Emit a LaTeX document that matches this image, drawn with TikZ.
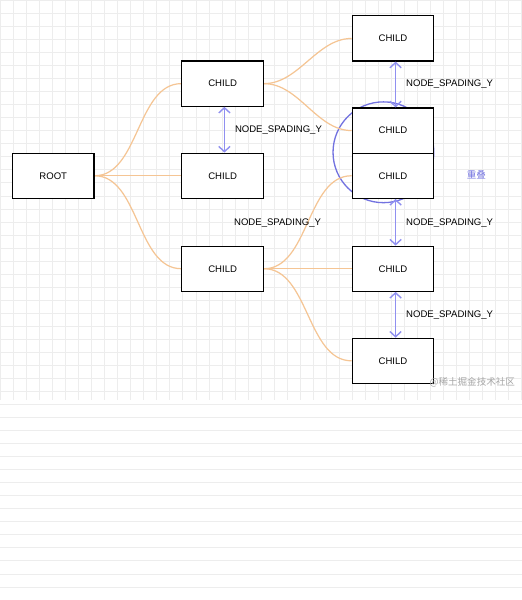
\documentclass[tikz,border=0pt]{standalone}
\usepackage{fontspec}
\setmainfont{Liberation Sans}
\newfontfamily\cjk{Noto Sans CJK SC}
\usetikzlibrary{arrows.meta,calc,backgrounds}
\definecolor{sp}{HTML}{9090F0}
\definecolor{circ}{HTML}{7272E0}
\definecolor{lk}{HTML}{F5C594}
\begin{document}
\begin{tikzpicture}[x=1pt,y=-1pt,
  box/.style={draw=black,line width=1.3pt,fill=white,minimum width=94pt,minimum height=52pt,inner sep=0pt,font=\fontsize{11}{13}\selectfont},
  link/.style={draw=lk,line width=1.4pt},
  sp/.style={draw=sp,line width=1.6pt,{Straight Barb[length=6pt,width=13pt]}-{Straight Barb[length=6pt,width=13pt]}},
  lbl/.style={anchor=west,font=\fontsize{11}{13}\selectfont,inner sep=0pt}]
\node[box] (r) at (61,202) {ROOT};
\node[box] (a) at (256,96) {CHILD};
\node[box] (b) at (256,202) {CHILD};
\node[box] (c) at (256,309) {CHILD};
\node[box] (d1) at (452,44) {CHILD};
\node[box] (d2) at (452,150) {CHILD};
\node[box] (d3) at (452,202) {CHILD};
\node[box] (d4) at (452,309) {CHILD};
\node[box] (d5) at (452,415) {CHILD};
\begin{scope}[on background layer]
\fill[white] (0,0) rectangle (600,460);
\foreach \i in {0,...,46}{
  \draw[black!7,line width=0.5pt] (0,\i*15) -- (600,\i*15);
}
\foreach \i in {0,...,40}{
  \draw[black!7,line width=0.5pt] (\i*15,0) -- (\i*15,460);
}
\draw[circ,line width=1.5pt] (441,175) circle (58);
\foreach \p/\c in {r/a,r/b,r/c,a/d1,a/d2,c/d3,c/d4,c/d5}{
  \draw[link] (\p.east) to[out=0,in=180,looseness=0.9] (\c.west);
}
\end{scope}
\useasboundingbox (0,0) rectangle (600,460);
\path (a.south) ++(2,0) coordinate (x1) (b.north) ++(2,0) coordinate (x2);
\draw[sp] (x1) -- (x2);
\path (d1.south) ++(3,0) coordinate (y1) (d2.north) ++(3,0) coordinate (y2);
\draw[sp] (y1) -- (y2);
\path (d3.south) ++(3,0) coordinate (y3) (d4.north) ++(3,0) coordinate (y4);
\draw[sp] (y3) -- (y4);
\path (d4.south) ++(3,0) coordinate (y5) (d5.north) ++(3,0) coordinate (y6);
\draw[sp] (y5) -- (y6);
\node[lbl] (l1) at (270,150) {NODE\_SPADING\_Y};
\node[lbl] (l2) at (269,256) {NODE\_SPADING\_Y};
\node[lbl] (l3) at (467,97) {NODE\_SPADING\_Y};
\node[lbl] (l4) at (467,256) {NODE\_SPADING\_Y};
\node[lbl] (l5) at (467,362) {NODE\_SPADING\_Y};
\node[font=\cjk\fontsize{11}{13}\selectfont,text=circ] (ov) at (548,201) {重叠};
\node[font=\cjk\fontsize{11}{13}\selectfont,text=black!35,anchor=east] (wm) at (596,440) {@稀土掘金技术社区};
\end{tikzpicture}
\end{document}
